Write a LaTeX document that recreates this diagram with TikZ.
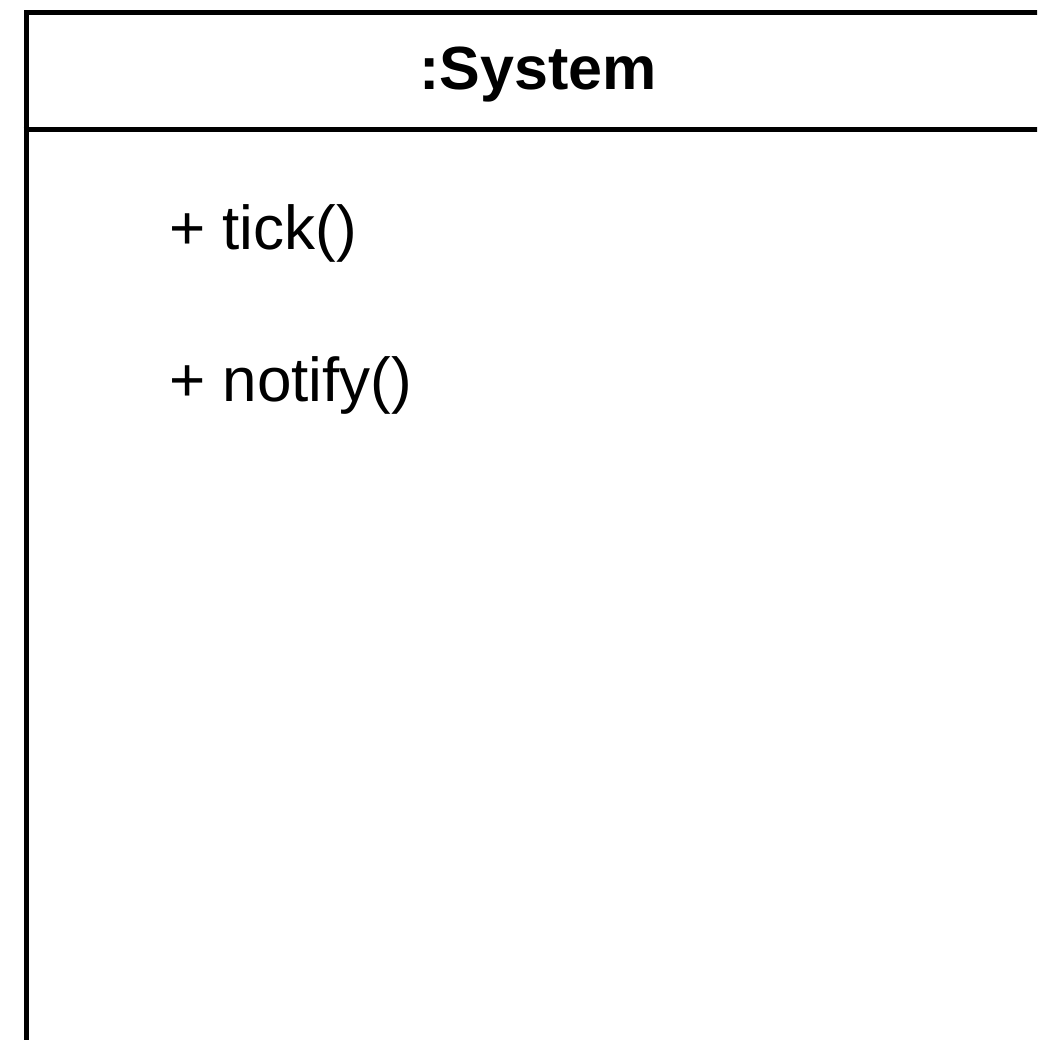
\documentclass[tikz,border=0pt]{standalone}
\usepackage{fontspec}
\setmainfont{Liberation Sans}
\begin{document}
\begin{tikzpicture}[x=1pt,y=1pt,
  frame/.style={draw=black,line width=5pt},
  title/.style={font=\fontsize{61}{70}\selectfont\bfseries,inner sep=0pt,anchor=base},
  member/.style={font=\fontsize{62}{70}\selectfont,inner sep=0pt,anchor=base west}]
  \useasboundingbox (0,0) rectangle (1037,1040);
  \clip (0,0) rectangle (1037,1040);
  \fill[white] (0,0) rectangle (1037,1040);
  % object box (its right and bottom edges lie outside the view)
  \node[frame,minimum width=1029pt,minimum height=1100pt,anchor=north west,inner sep=0pt]
    (obj) at (23.5,1029.5) {};
  \coordinate (hl) at (23.5,910.5);
  \coordinate (hr) at (1052.5,910.5);
  \draw[frame] (hl) -- (hr);
  % header
  \node[title] (name) at (538,950) {:System};
  % operations
  \node[member] (op1) at (169,790) {+ tick()};
  \node[member] (op2) at (169,638) {+ notify()};
\end{tikzpicture}
\end{document}
